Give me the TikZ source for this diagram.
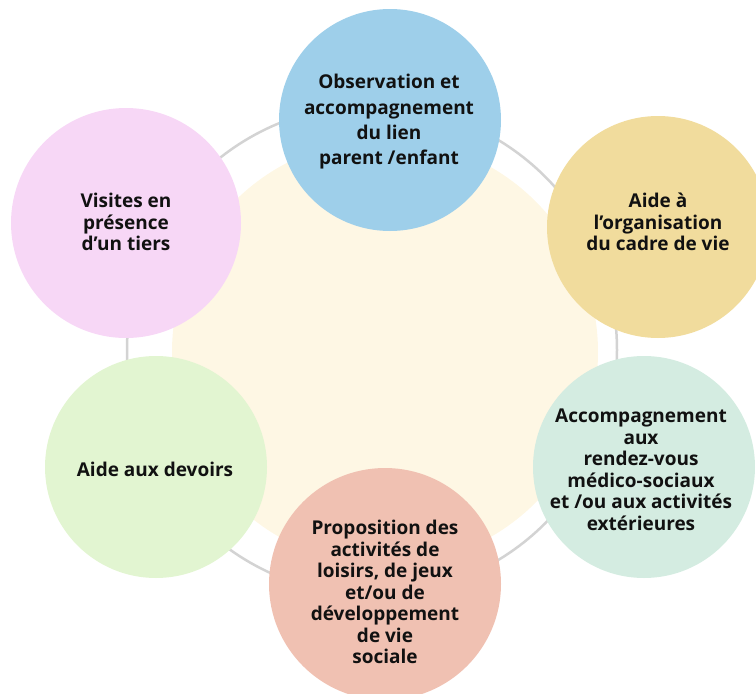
\documentclass[tikz,border=0pt]{standalone}
\usepackage{fontspec}
\setmainfont{Open Sans}
\usetikzlibrary{positioning}
\definecolor{ringgray}{HTML}{D3D3D3}
\definecolor{corecream}{HTML}{FEF7E4}
\definecolor{obsblue}{HTML}{9ECFEA}
\definecolor{cadreyellow}{HTML}{F1DC9D}
\definecolor{rdvmint}{HTML}{D4ECE1}
\definecolor{loisirsalmon}{HTML}{F0C1B2}
\definecolor{devoirgreen}{HTML}{E2F5D1}
\definecolor{visitepink}{HTML}{F7D7F6}
\definecolor{inkblack}{HTML}{111111}

\begin{document}
\begin{tikzpicture}[x=1pt, y=-1pt,
  bubble/.style={circle, minimum size=#1, inner sep=0pt},
  caption/.style={font=\bfseries\fontsize{19}{21.5}\selectfont, text=inkblack, align=center, inner sep=0pt}]
  \useasboundingbox (0,0) rectangle (756,694);
  \clip (0,0) rectangle (756,694);
  % ring and core
  \node[bubble=490pt, draw=ringgray, line width=2.5pt] (ring) at (372,350) {};
  \node[bubble=426pt, fill=corecream] (core) at (385,352) {};
  % the six bubbles
  \node[bubble=222pt, fill=obsblue] (obs) at (390,120) {};
  \node[bubble=222pt, fill=cadreyellow] (cadre) at (658,227) {};
  \node[bubble=222pt, fill=rdvmint] (rdv) at (644,467) {};
  \node[bubble=232pt, fill=loisirsalmon] (loisirs) at (385,584) {};
  \node[bubble=222pt, fill=devoirgreen] (devoirs) at (156,467) {};
  \node[bubble=230pt, fill=visitepink] (visites) at (126,223) {};
  % captions
  \node[caption, font=\bfseries\fontsize{19}{25.3}\selectfont] (obs-t) at (389,122)
    {Observation et\\accompagnement\\du lien\\parent /enfant};
  \node[caption] (cadre-t) at (658,222) {Aide à\\l’organisation\\du cadre de vie};
  \node[caption] (rdv-t) at (641,470)
    {Accompagnement\\aux\\rendez-vous\\médico-sociaux\\et /ou aux activités\\extérieures};
  \node[caption] (loisirs-t) at (385,592)
    {Proposition des\\activités de\\loisirs, de jeux\\et/ou de\\développement\\de vie\\sociale};
  \node[caption] (devoirs-t) at (155,469) {Aide aux devoirs};
  \node[caption] (visites-t) at (126,222) {Visites en\\présence\\d’un tiers};
\end{tikzpicture}
\end{document}
